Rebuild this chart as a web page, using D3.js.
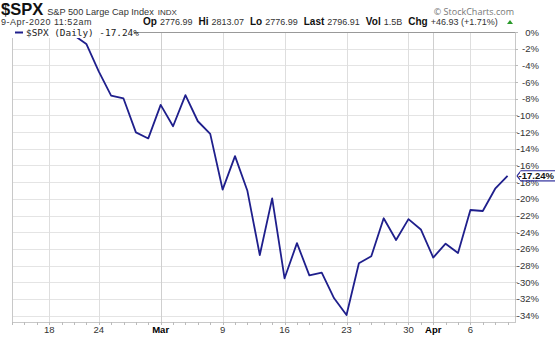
<!DOCTYPE html>
<html>
<head>
<meta charset="utf-8">
<script src="https://cdn.jsdelivr.net/npm/d3@7"></script>
<style>
  body { margin: 0; background: #fff; }
  svg { display: block; font-family: "Liberation Sans", Arial, sans-serif; }
</style>
</head>
<body>
<div class="wrapper"></div>
<script>
// trading days, 18-Feb to 9-Apr 2020
var dates = ["02-18","02-19","02-20","02-21","02-24","02-25","02-26","02-27","02-28",
  "03-02","03-03","03-04","03-05","03-06","03-09","03-10","03-11","03-12","03-13",
  "03-16","03-17","03-18","03-19","03-20","03-23","03-24","03-25","03-26","03-27",
  "03-30","03-31","04-01","04-02","04-03","04-06","04-07","04-08","04-09"];
// % change since 19-Feb (null = before start)
var pctChange = [null, 0, -0.38, -1.43, -4.73, -7.62, -7.97, -12.03, -12.76,
  -8.74, -11.30, -7.56, -10.70, -12.22, -18.89, -14.88, -19.04, -26.74, -19.94,
  -29.53, -25.31, -29.18, -28.85, -31.93, -33.92, -27.72, -26.89, -22.33, -24.94,
  -22.43, -23.67, -27.04, -25.38, -26.50, -21.34, -21.46, -18.79, -17.24];
var xTickIdx = [0, 4, 9, 14, 19, 24, 29, 31, 34];
var xTickLabels = ["18", "24", "Mar", "9", "16", "23", "30", "Apr", "6"];
var yTicks = d3.range(0, -35, -2);

var W = 560, H = 341;
var plot = {left: 12, right: 515, top: 32, bottom: 322};

var svg = d3.select(".wrapper").append("svg")
    .attr("width", W)
    .attr("height", H);

var x = d3.scaleLinear().domain([-3, 37.6]).range([plot.left, plot.right]);
var y = d3.scaleLinear().domain([0, -34]).range([32, 315.6]);

// horizontal grid
svg.append("g").selectAll("line")
    .data(yTicks)
    .enter().append("line")
    .attr("x1", plot.left).attr("x2", plot.right)
    .attr("y1", function(d) { return Math.round(y(d)) + 0.5; })
    .attr("y2", function(d) { return Math.round(y(d)) + 0.5; })
    .style("stroke", "#e4e4e4");

// vertical grid
svg.append("g").selectAll("line")
    .data(xTickIdx)
    .enter().append("line")
    .attr("x1", function(d) { return Math.round(x(d)) + 0.5; })
    .attr("x2", function(d) { return Math.round(x(d)) + 0.5; })
    .attr("y1", plot.top).attr("y2", plot.bottom)
    .style("stroke", function(d, i) { return (xTickLabels[i] == "Mar" || xTickLabels[i] == "Apr") ? "#cfcfcf" : "#dedede"; });

// frame
svg.append("rect")
    .attr("x", plot.left + 0.5).attr("y", plot.top + 0.5)
    .attr("width", plot.right - plot.left).attr("height", plot.bottom - plot.top)
    .style("fill", "none").style("stroke", "#c8c8c8");
svg.append("line")
    .attr("x1", plot.left).attr("x2", plot.right + 1)
    .attr("y1", plot.top + 0.5).attr("y2", plot.top + 0.5)
    .style("stroke", "#999");

// minor ticks, one per trading day
svg.append("g").selectAll("line")
    .data(d3.range(-3, 38))
    .enter().append("line")
    .attr("x1", function(d) { return Math.round(x(d)) + 0.5; })
    .attr("x2", function(d) { return Math.round(x(d)) + 0.5; })
    .attr("y1", plot.bottom).attr("y2", plot.bottom + 3)
    .style("stroke", "#bbb");

// x labels
svg.append("g").selectAll("text")
    .data(xTickIdx)
    .enter().append("text")
    .attr("x", function(d) { return x(d); })
    .attr("y", 333)
    .attr("text-anchor", "middle")
    .style("font-size", "9.5px")
    .style("font-weight", function(d, i) { return isNaN(+xTickLabels[i]) ? "bold" : "normal"; })
    .style("fill", function(d, i) { return isNaN(+xTickLabels[i]) ? "#000" : "#333"; })
    .text(function(d, i) { return xTickLabels[i]; });

// right axis ticks and labels
svg.append("g").selectAll("line")
    .data(yTicks)
    .enter().append("line")
    .attr("x1", plot.right).attr("x2", plot.right + 3)
    .attr("y1", function(d) { return Math.round(y(d)) + 0.5; })
    .attr("y2", function(d) { return Math.round(y(d)) + 0.5; })
    .style("stroke", "#bbb");
svg.append("g").selectAll("text")
    .data(yTicks)
    .enter().append("text")
    .attr("x", 539)
    .attr("y", function(d) { return y(d) + 3.5; })
    .attr("text-anchor", "end")
    .style("font-size", "9.5px")
    .style("fill", "#333")
    .text(function(d) { return d + "%"; });

// line
var pts = pctChange.map(function(v, i) { return {i: i, v: v}; })
    .filter(function(d) { return d.v !== null; });
var line = d3.line()
    .x(function(d) { return x(d.i); })
    .y(function(d) { return y(d.v); });
svg.append("path")
    .datum(pts)
    .attr("d", line)
    .style("fill", "none")
    .style("stroke", "#1f1f8c")
    .style("stroke-width", 1.8)
    .style("stroke-linejoin", "round");

// legend (sits on the top border)
var leg = svg.append("g");
leg.append("rect")
    .attr("x", plot.left).attr("y", 28)
    .attr("width", 122).attr("height", 10)
    .style("fill", "#fff");
leg.append("line")
    .attr("x1", 15).attr("x2", 23).attr("y1", 32.5).attr("y2", 32.5)
    .style("stroke", "#1f1f8c").style("stroke-width", 2);
leg.append("text")
    .attr("x", 26).attr("y", 36)
    .style("font-family", "'DejaVu Sans Mono', monospace")
    .style("font-size", "9.4px")
    .style("fill", "#222")
    .text("$SPX (Daily) -17.24%");

// last value tag
var last = pctChange[pctChange.length - 1];
var ty = y(last);
svg.append("path")
    .attr("d", "M" + (plot.right + 2) + "," + ty + " L" + (plot.right + 6) + "," + (ty - 5) +
      " H555 M" + (plot.right + 2) + "," + ty + " L" + (plot.right + 6) + "," + (ty + 5) + " H555")
    .style("fill", "none").style("stroke", "#2a2a9a").style("stroke-width", 1.2);
svg.append("rect")
    .attr("x", plot.right + 5).attr("y", ty - 4.3)
    .attr("width", 40).attr("height", 8.6)
    .style("fill", "#fff");
svg.append("text")
    .attr("x", 554).attr("y", ty + 3.5)
    .attr("text-anchor", "end")
    .style("font-size", "9.5px").style("font-weight", "bold")
    .style("fill", "#111")
    .text(last.toFixed(2) + "%");

// header
var hdr = svg.append("text").attr("x", 1).attr("y", 15).style("fill", "#111");
hdr.append("tspan").style("font-size", "16.5px").style("font-weight", "bold").text("$SPX");
hdr.append("tspan").attr("dx", 4).style("font-size", "9.2px").style("fill", "#333").text("S&P 500 Large Cap Index");
hdr.append("tspan").attr("dx", 4).style("font-size", "8px").style("fill", "#333").text("INDX");

svg.append("text").attr("x", 1).attr("y", 25)
    .style("font-size", "9px").style("fill", "#333")
    .style("letter-spacing", "0.5px")
    .text("9-Apr-2020 11:52am");

var quote = [["Op", "2776.99"], ["Hi", "2813.07"], ["Lo", "2776.99"], ["Last", "2796.91"],
  ["Vol", "1.5B"], ["Chg", "+46.93 (+1.71%)"]];
var q = svg.append("text").attr("x", 143).attr("y", 25).style("fill", "#111");
quote.forEach(function(p, i) {
    q.append("tspan").attr("dx", i ? 6 : 0).style("font-size", "10px").style("font-weight", "bold").text(p[0]);
    q.append("tspan").attr("dx", 3).style("font-size", "9px").style("fill", "#333").text(p[1]);
});
svg.append("path")
    .attr("d", "M507,24 L510,20 L513,24 Z")
    .style("fill", "#2a9a2a");

svg.append("text").attr("x", 514).attr("y", 15)
    .attr("text-anchor", "end")
    .style("font-family", "'Open Sans', sans-serif")
    .style("font-size", "9px").style("fill", "#777")
    .text("\u00a9 StockCharts.com");
</script>
</body>
</html>
